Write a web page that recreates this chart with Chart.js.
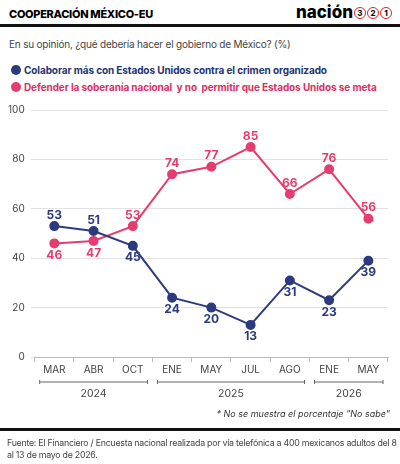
<!DOCTYPE html>
<html><head><meta charset="utf-8">
<script src="https://cdn.jsdelivr.net/npm/chart.js@4"></script>
<style>
body{margin:0;width:400px;height:464px;position:relative;font-family:Inter,"Noto Sans",sans-serif;background:#fff;overflow:hidden}
.t{position:absolute;left:9px;top:7px;font-weight:800;font-size:11px;letter-spacing:-0.3px}
.logo{position:absolute;right:8px;top:2px;font-weight:800;font-size:17px}
.logo span{display:inline-block;width:10px;height:10px;border:1.5px solid #d22;border-radius:50%;font-size:8px;line-height:10px;text-align:center;vertical-align:middle;margin-left:1px;color:#111}
.hr{position:absolute;left:0;width:400px;height:3px;background:#111}
.s{position:absolute;left:9px;top:38px;font-size:10px;color:#444;letter-spacing:-0.2px}
.lg{position:absolute;left:11px;font-size:10px;font-weight:700;white-space:nowrap;letter-spacing:-0.1px}
.lg i{display:inline-block;width:10px;height:10px;border-radius:50%;vertical-align:-1px;margin-right:3px}
.fn{position:absolute;right:10px;top:408px;font-size:9px;font-style:italic;color:#333}
.src{position:absolute;left:7px;top:437px;font-size:8.8px;color:#444;line-height:11.5px;width:392px;letter-spacing:-0.25px}
canvas{position:absolute;left:0;top:0}
</style></head><body>
<div class="t">COOPERACIÓN MÉXICO-EU</div>
<div class="logo">nación<span>3</span><span>2</span><span>1</span></div>
<div class="hr" style="top:24px"></div>
<div class="s">En su opinión, ¿qué debería hacer el gobierno de México? (%)</div>
<div class="lg" style="top:64px;color:#26346f"><i style="background:#2c3a7e"></i>Colaborar más con Estados Unidos contra el crimen organizado</div>
<div class="lg" style="top:81px;color:#dc2f64"><i style="background:#e43d70"></i>Defender la soberanía nacional&nbsp; y no&nbsp; permitir que Estados Unidos se meta</div>
<canvas id="c" width="400" height="464"></canvas>
<div class="fn">* No se muestra el porcentaje "No sabe"</div>
<div class="hr" style="top:428px;height:3px"></div>
<div class="src">Fuente: El Financiero / Encuesta nacional realizada por vía telefónica a 400 mexicanos adultos del 8 al 13 de mayo de 2026.</div>
<script>
const months = ['MAR','ABR','OCT','ENE','MAY','JUL','AGO','ENE','MAY'];
const colaborar = [53,51,45,24,20,13,31,23,39];
const defender = [46,47,53,74,77,85,66,76,56];
const years = [{label:'2024',from:0,to:2},{label:'2025',from:3,to:6},{label:'2026',from:7,to:8}];
const navy = '#2c3a7e', pink = '#e43d70';

const labelsPlugin = {
  id:'labels',
  afterDatasetsDraw(chart){
    const ctx = chart.ctx;
    ctx.save();
    ctx.font = 'bold 12px Inter, sans-serif';
    ctx.textAlign = 'center';
    chart.data.datasets.forEach((ds, di) => {
      const meta = chart.getDatasetMeta(di);
      meta.data.forEach((pt, i) => {
        const other = chart.data.datasets[1-di].data[i];
        const above = ds.data[i] >= other;
        ctx.fillStyle = ds.borderColor;
        ctx.textBaseline = above ? 'bottom' : 'top';
        ctx.fillText(ds.data[i], pt.x, pt.y + (above ? -5 : 6));
      });
    });
    const x = chart.scales.x;
    const half = (x.getPixelForValue(1) - x.getPixelForValue(0)) / 2;
    ctx.strokeStyle = '#666'; ctx.lineWidth = 1;
    ctx.fillStyle = '#444'; ctx.font = '10.5px Inter, sans-serif'; ctx.textBaseline = 'middle';
    years.forEach(y => {
      const a = x.getPixelForValue(y.from) - half + 5, b = x.getPixelForValue(y.to) + half - 5;
      const yy = 382;
      ctx.beginPath();
      ctx.moveTo(a, yy); ctx.lineTo(b, yy);
      ctx.moveTo(a, yy-2); ctx.lineTo(a, yy+2);
      ctx.moveTo(b, yy-2); ctx.lineTo(b, yy+2);
      ctx.stroke();
      ctx.fillText(y.label, (a+b)/2, 394);
    });
    ctx.restore();
  }
};

new Chart(document.getElementById('c'), {
  type:'line',
  data:{labels:months, datasets:[
    {data:colaborar, borderColor:navy, backgroundColor:navy, borderWidth:2, pointRadius:4, pointBackgroundColor:navy, tension:0},
    {data:defender, borderColor:pink, backgroundColor:pink, borderWidth:2, pointRadius:4, pointBackgroundColor:pink, tension:0}
  ]},
  options:{
    responsive:false, animation:false,
    layout:{padding:{top:110, bottom:86, left:2, right:12}},
    plugins:{legend:{display:false}, tooltip:{enabled:false}},
    scales:{
      x:{offset:true, grid:{offset:true, drawOnChartArea:false, tickLength:5, color:'#bbb'},
         border:{color:'#bbb'},
         ticks:{color:'#444', font:{size:10, family:'Inter'}, padding:2}},
      y:{min:0, max:100, ticks:{stepSize:20, color:'#444', font:{size:10, family:'Inter'}, padding:6},
         grid:{color:'#e2e2e2', drawTicks:true, tickLength:4}, border:{display:false}}
    }
  },
  plugins:[labelsPlugin]
});
</script>
</body></html>
